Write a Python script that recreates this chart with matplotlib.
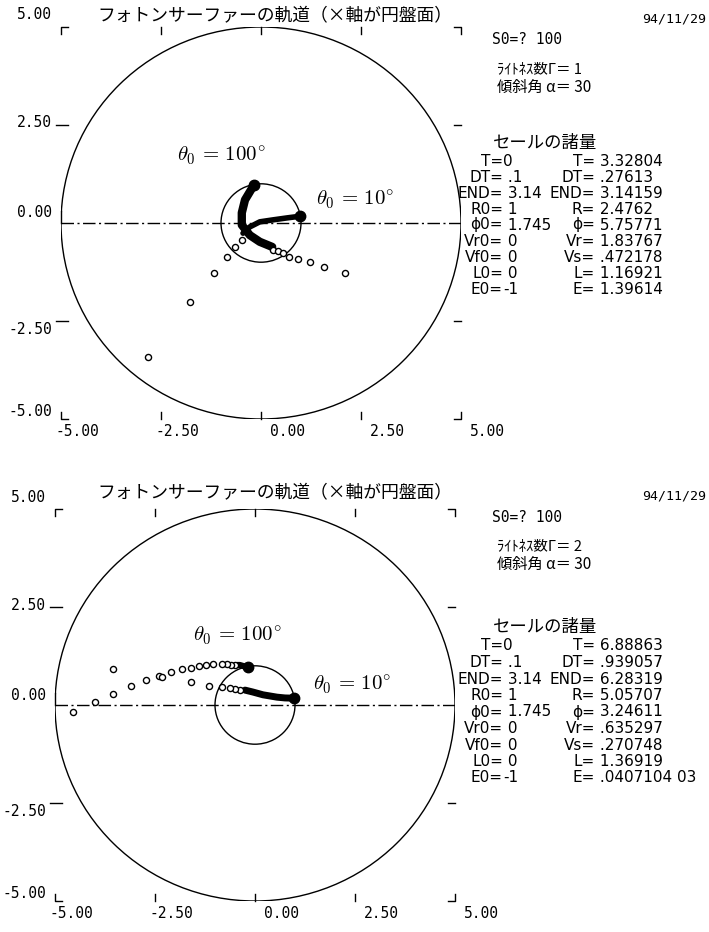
import numpy as np
import matplotlib.pyplot as plt
from matplotlib.patches import Circle
from matplotlib.transforms import ScaledTranslation

plt.rcParams['mathtext.fontset'] = 'cm'

# ============================================================
# Data (x = disk plane)
# ============================================================
title = "フォトンサーファーの軌道（×軸が円盤面）"
date_str = "94/11/29"
s0_str = "S0=? 100"
alpha_val = 30
gamma_vals = [1, 2]

tick_vals = [-5.0, -2.5, 0.0, 2.5, 5.0]
tick_labels = ["-5.00", "-2.50", "0.00", "2.50", "5.00"]

# panel 1 : lightness number 1
p1_100_dense_x = [-0.17, -0.40, -0.48, -0.48, -0.28, -0.03, 0.28]
p1_100_dense_y = [0.98, 0.59, 0.26, -0.05, -0.31, -0.48, -0.61]
p1_100_open_x = [0.30, 0.43, 0.55, 0.70, 0.93, 1.23, 1.58, 2.10]
p1_100_open_y = [-0.69, -0.71, -0.77, -0.87, -0.92, -0.99, -1.12, -1.28]
p1_10_dense_x = [0.985, 0.65, 0.30, -0.03, -0.28, -0.45]
p1_10_dense_y = [0.174, 0.13, 0.08, 0.03, -0.10, -0.26]
p1_10_open_x = [-0.48, -0.65, -0.85, -1.18, -1.78, -2.83]
p1_10_open_y = [-0.43, -0.61, -0.87, -1.28, -2.02, -3.42]

# panel 2 : lightness number 2
p2_100_dense_x = [-0.17, -0.28, -0.38, -0.45]
p2_100_dense_y = [0.97, 0.99, 1.02, 1.02]
p2_100_open_x = [-0.50, -0.60, -0.70, -0.83, -1.05, -1.23, -1.40, -1.60, -1.83,
                 -2.10, -2.40, -2.73, -3.10, -3.55, -4.00, -4.55]
p2_100_open_y = [1.02, 1.02, 1.05, 1.05, 1.05, 1.02, 0.99, 0.94, 0.92,
                 0.84, 0.74, 0.64, 0.48, 0.28, 0.08, -0.18]
p2_10_dense_x = [0.985, 0.75, 0.55, 0.20, -0.05, -0.25]
p2_10_dense_y = [0.174, 0.18, 0.20, 0.26, 0.33, 0.38]
p2_10_open_x = [-0.38, -0.50, -0.63, -0.83, -1.15, -1.60, -2.33, -3.55]
p2_10_open_y = [0.38, 0.41, 0.43, 0.46, 0.48, 0.59, 0.71, 0.92]

# sail parameters (initial / final)
init_labels = ["T=", "DT=", "END=", "R0=", "ϕ0=", "Vr0=", "Vf0=", "L0=", "E0="]
init_values = ["0", " .1", " 3.14", " 1", " 1.745", " 0", " 0", " 0", "-1"]
final_labels = ["T=", "DT=", "END=", "R=", "ϕ=", "Vr=", "Vs=", "L=", "E="]
final_values_1 = [" 3.32804", " .27613", " 3.14159", " 2.4762", " 5.75771",
                  " 1.83767", " .472178", " 1.16921", " 1.39614"]
final_values_2 = [" 6.88863", " .939057", " 6.28319", " 5.05707", " 3.24611",
                  " .635297", " .270748", " 1.36919", " .0407104 03"]

# ============================================================
# Figure
# ============================================================
W, H = 709, 932
fig = plt.figure(figsize=(W / 100, H / 100), dpi=100)
fig.patch.set_facecolor('white')

CJK = ['Noto Sans CJK JP', 'DejaVu Sans']
MONO = 'DejaVu Sans Mono'
AX_W, AX_H = 400, 392
SX, SY = AX_W / 10, AX_H / 10   # px per data unit

# vertical shift (px, down positive) of each y tick label from its tick
ylab_shift = {-5.0: -7, -2.5: 9, 0.0: -10, 2.5: -2, 5.0: -12}


def ftext(x, y, s, **kw):
    fig.text(x / W, 1 - y / H, s, **kw)


def off(ax, dx, dy):
    return ax.transData + ScaledTranslation(dx / 100, -dy / 100, fig.dpi_scale_trans)


def draw_panel(left, top, trajs, lab100, lab10):
    ax = fig.add_axes([left / W, 1 - (top + AX_H) / H, AX_W / W, AX_H / H])
    ax.set_xlim(-5, 5)
    ax.set_ylim(-5, 5)
    ax.axis('off')

    ax.add_patch(Circle((0, 0), 5, fill=False, lw=1.0, ec='black'))
    ax.add_patch(Circle((0, 0), 1, fill=False, lw=1.0, ec='black'))
    ax.plot([-5, 5], [0, 0], color='black', lw=1.0, dashes=(9, 2.5, 1.5, 2.5))

    # frame corners
    tx, ty = 7 / SX, 7 / SY
    for cx, cy, sx, sy in [(-5, 5, 1, -1), (5, 5, -1, -1), (-5, -5, 1, 1), (5, -5, -1, 1)]:
        ax.plot([cx + sx * tx, cx, cx], [cy, cy, cy + sy * ty], color='black', lw=1.0,
                clip_on=False)
    # inward ticks
    for v in [-2.5, 0, 2.5]:
        ax.plot([v, v], [5, 5 - ty], color='black', lw=1.0, clip_on=False)
        ax.plot([v, v], [-5, -5 + ty], color='black', lw=1.0, clip_on=False)
    for v in [-2.5, 2.5]:
        ax.plot([5, 5 - tx], [v, v], color='black', lw=1.0, clip_on=False)
        ax.plot([-5 - 0.12, -5 + tx], [v, v], color='black', lw=1.0, clip_on=False)
    ax.plot([-5, -5], [0, 12 / SY], color='black', lw=1.0, clip_on=False)

    # tick labels
    for v, lab in zip(tick_vals, tick_labels):
        ax.text(-5, v, lab, ha='right', va='center', family=MONO, fontsize=10.5,
                transform=off(ax, -9, ylab_shift[v]), clip_on=False)
    for v, lab in zip(tick_vals, tick_labels):
        dx = -5 if lab.startswith('-') else 9
        ax.text(v, -5, lab, ha='left', va='center', family=MONO, fontsize=10.5,
                transform=off(ax, dx, 13), clip_on=False)

    # trajectories
    for dx_, dy_, ox, oy, lw in trajs:
        ax.plot(dx_, dy_, color='black', lw=lw, solid_capstyle='round', clip_on=False)
        ax.plot(ox, oy, 'o', ms=4.4, mfc='white', mec='black', mew=1.0, clip_on=False)
        ax.plot(dx_[0], dy_[0], 'o', ms=7.5, color='black')

    ax.text(lab100[0], lab100[1], r'$\theta_0\, =\, 100^{\circ}$', fontsize=15,
            ha='center', va='center')
    ax.text(lab10[0], lab10[1], r'$\theta_0\, =\, 10^{\circ}$', fontsize=15,
            ha='center', va='center')
    return ax


def draw_info(y0, gamma, final_values, hdr_y, row0, step):
    ftext(97, y0 + 16, title, family=CJK, fontsize=12.8, va='center')
    ftext(642, y0 + 19, date_str, family=MONO, fontsize=9.5, va='center')
    ftext(492, y0 + 40, s0_str, family=MONO, fontsize=10.5, va='center')
    ftext(497, y0 + 69, f"ﾗｲﾄﾈｽ数Γ＝ {gamma}", family=CJK, fontsize=10.5, va='center')
    ftext(497, y0 + 87, f"傾斜角 α＝ {alpha_val}", family=CJK, fontsize=11, va='center')
    ftext(493, hdr_y, "セールの諸量", family=CJK, fontsize=12.5, va='center')
    for i in range(len(init_labels)):
        y = row0 + i * step
        ftext(503, y, init_labels[i], family='DejaVu Sans', fontsize=11, ha='right', va='center')
        ftext(503, y, init_values[i], family='DejaVu Sans', fontsize=11, ha='left', va='center')
        ftext(595, y, final_labels[i], family='DejaVu Sans', fontsize=11, ha='right', va='center')
        ftext(595, y, final_values[i], family='DejaVu Sans', fontsize=11, ha='left', va='center')


trajs1 = [(p1_100_dense_x, p1_100_dense_y, p1_100_open_x, p1_100_open_y, 6.0),
          (p1_10_dense_x, p1_10_dense_y, p1_10_open_x, p1_10_open_y, 4.0)]
trajs2 = [(p2_100_dense_x, p2_100_dense_y, p2_100_open_x, p2_100_open_y, 4.5),
          (p2_10_dense_x, p2_10_dense_y, p2_10_open_x, p2_10_open_y, 5.0)]

draw_panel(61, 27, trajs1, (-1.0, 1.73), (2.35, 0.59))
draw_panel(55, 509, trajs2, (-0.45, 1.76), (2.43, 0.51))

draw_info(0, gamma_vals[0], final_values_1, 143, 161, 16.0)
draw_info(477, gamma_vals[1], final_values_2, 627, 646, 16.5)

fig.savefig("out.png", dpi=100)
